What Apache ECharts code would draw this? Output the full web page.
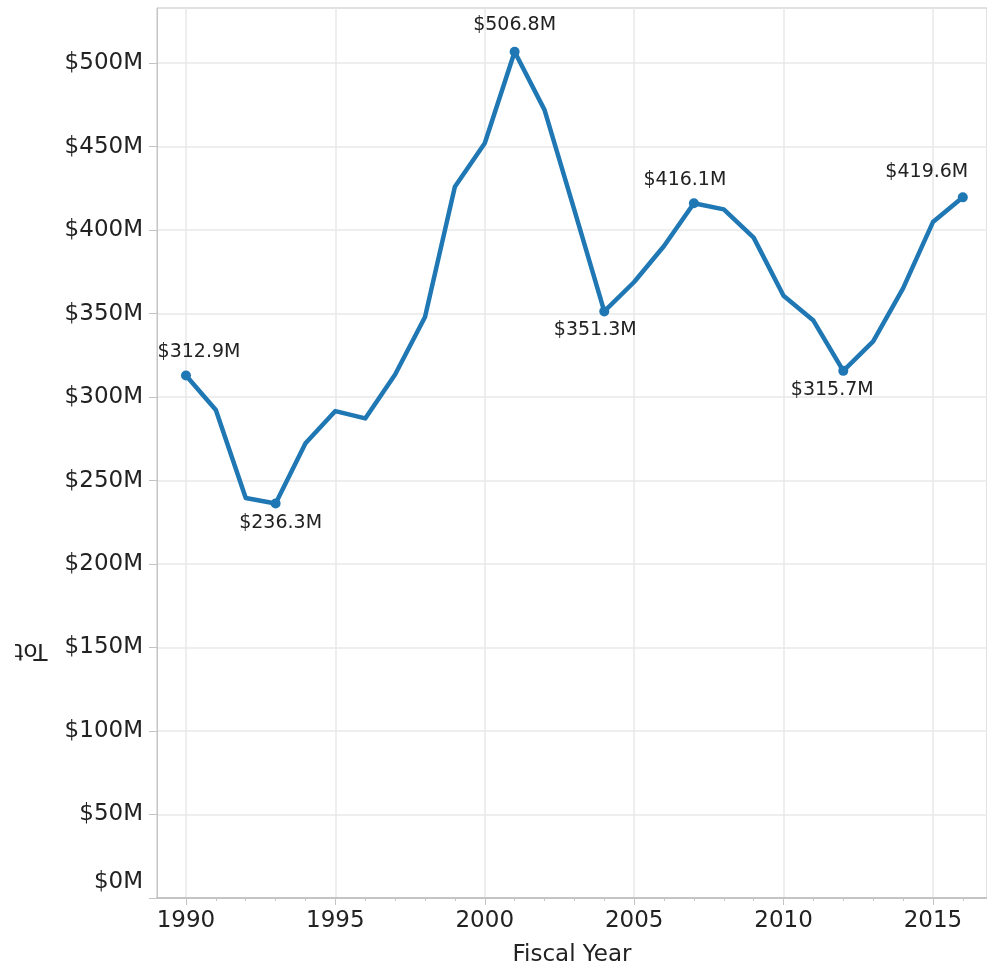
<!DOCTYPE html>
<html>
<head>
<meta charset="utf-8">
<script src="https://cdn.jsdelivr.net/npm/echarts@6/dist/echarts.min.js"></script>
<style>
  html, body { margin: 0; padding: 0; background: #fff; }
  #main { width: 987px; height: 972px; }
</style>
</head>
<body>
<div id="main"></div>
<script>
// fiscal years and totals ($M)
const years = [1990, 1991, 1992, 1993, 1994, 1995, 1996, 1997, 1998, 1999,
  2000, 2001, 2002, 2003, 2004, 2005, 2006, 2007, 2008, 2009,
  2010, 2011, 2012, 2013, 2014, 2015, 2016];
const totals = [312.9, 292.2, 239.6, 236.3, 272.3, 291.6, 287.2, 313.5, 348.0, 426.0,
  452.0, 506.8, 472.0, 412.0, 351.3, 368.9, 390.5, 416.1, 412.4, 395.5,
  360.7, 345.8, 315.7, 333.3, 365.1, 404.8, 419.6];
const yearTicks = [1990, 1995, 2000, 2005, 2010, 2015];
const valueTicks = [0, 50, 100, 150, 200, 250, 300, 350, 400, 450, 500];
const peakYears = [1990, 2001, 2007, 2016];
const dipYears = [1993, 2004, 2012];

const font = 'DejaVu Sans';
const axisGrey = '#c4c4c4';
const gridGrey = '#e9e9e9';
const blue = '#1f77b4';

// label nudges so they sit like the original
const labelShift = {
  1990: [13, -4], 2001: [0, -7], 2007: [-9, -4], 2016: [-36, -6],
  1993: [5, 0], 2004: [-9, -1], 2012: [-11, 0]
};

const seriesData = years.map((y, i) => {
  const isPeak = peakYears.includes(y);
  const isDip = dipYears.includes(y);
  const item = { value: [y, totals[i]] };
  if (isPeak || isDip) {
    item.symbolSize = 10;
    item.label = {
      show: true,
      position: isPeak ? 'top' : 'bottom',
      offset: labelShift[y]
    };
  }
  return item;
});

const chart = echarts.init(document.getElementById('main'));
chart.setOption({
  animation: false,
  textStyle: { fontFamily: font },
  grid: {
    left: 157, top: 8, right: 0, bottom: 70,
    show: true, borderColor: axisGrey, borderWidth: 1
  },
  graphic: [{
    type: 'text',
    x: 31, y: 650,
    rotation: Math.PI,
    style: {
      text: 'Tot',
      font: '23px "DejaVu Sans"',
      fill: '#222',
      textAlign: 'center',
      textVerticalAlign: 'middle'
    }
  }],
  xAxis: [{
    type: 'value',
    min: 1989.03,
    max: 2016.81,
    name: 'Fiscal Year',
    nameLocation: 'middle',
    nameGap: 46,
    nameTextStyle: { fontSize: 23, color: '#222' },
    axisLine: { lineStyle: { color: axisGrey, width: 2 } },
    axisTick: { customValues: yearTicks, length: 7, lineStyle: { color: axisGrey } },
    axisLabel: {
      customValues: yearTicks, fontSize: 23, color: '#222', margin: 12,
      formatter: v => String(v)
    },
    splitLine: { show: true, lineStyle: { color: gridGrey, width: 1.5 } }
  }, {
    type: 'value',
    gridIndex: 0,
    position: 'bottom',
    offset: 0,
    min: 1989.03,
    max: 2016.81,
    axisLine: { show: false },
    axisTick: { customValues: years, length: 3, lineStyle: { color: axisGrey } },
    axisLabel: { show: false },
    splitLine: { show: false }
  }],
  yAxis: {
    type: 'value',
    min: 0,
    max: 533,
    interval: 50,
    axisLine: { show: true, lineStyle: { color: axisGrey } },
    axisTick: { show: true, customValues: valueTicks, length: 8, lineStyle: { color: axisGrey } },
    axisLabel: {
      customValues: valueTicks,
      fontSize: 23,
      color: '#222',
      margin: 14,
      lineHeight: 32,
      formatter: v => (v === 0 ? '$0M\n ' : '$' + v + 'M')
    },
    splitLine: { lineStyle: { color: gridGrey, width: 1.5 } }
  },
  series: [{
    type: 'line',
    data: seriesData,
    xAxisIndex: 0,
    symbol: 'circle',
    symbolSize: 0,
    showSymbol: true,
    itemStyle: { color: blue },
    lineStyle: { color: blue, width: 4.5, join: 'round' },
    label: {
      fontSize: 19,
      color: '#222',
      formatter: p => '$' + p.value[1].toFixed(1) + 'M'
    }
  }]
});
</script>
</body>
</html>
